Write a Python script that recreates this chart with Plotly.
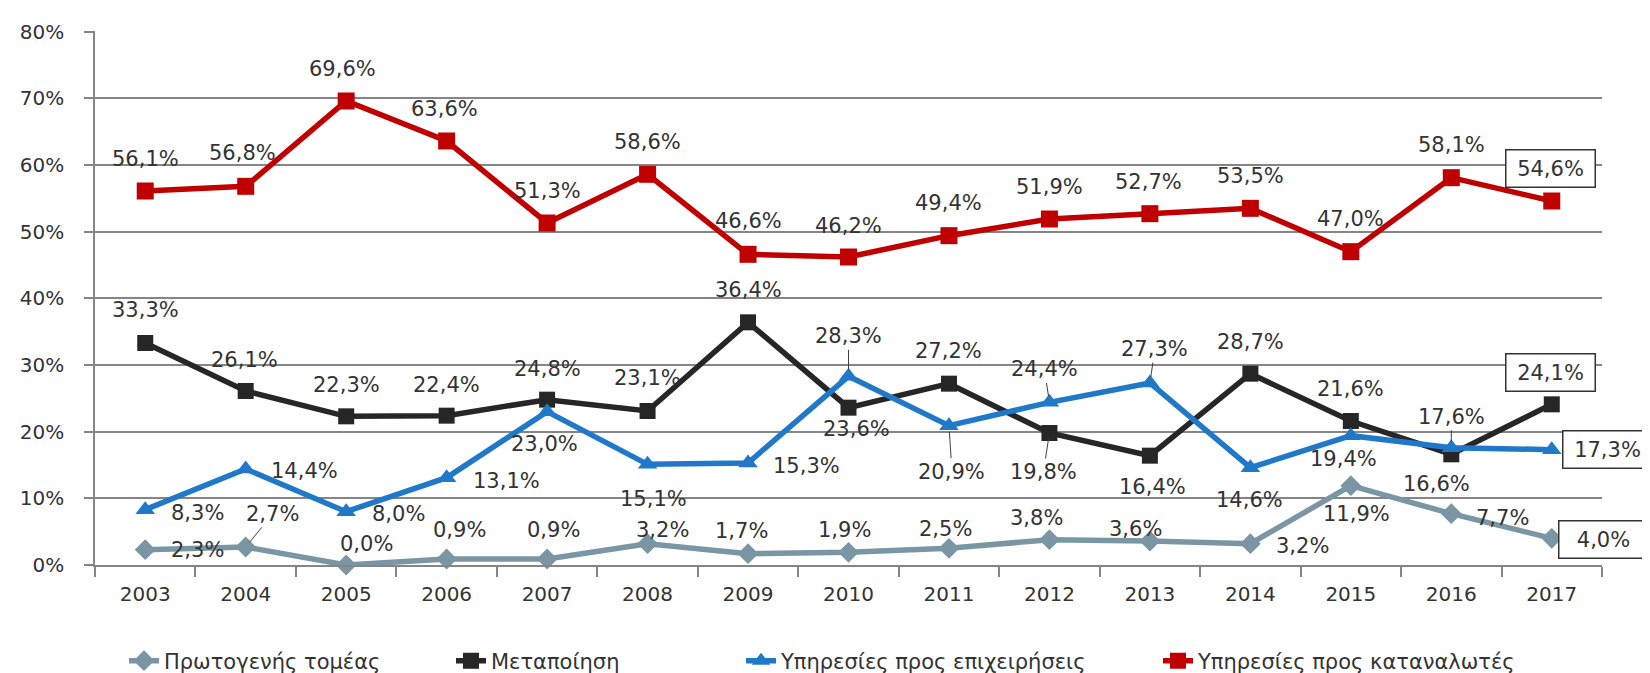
import plotly.graph_objects as go

years = ["2003", "2004", "2005", "2006", "2007", "2008", "2009", "2010",
         "2011", "2012", "2013", "2014", "2015", "2016", "2017"]

primary = [2.3, 2.7, 0.0, 0.9, 0.9, 3.2, 1.7, 1.9, 2.5, 3.8, 3.6, 3.2, 11.9, 7.7, 4.0]
manufacturing = [33.3, 26.1, 22.3, 22.4, 24.8, 23.1, 36.4, 23.6, 27.2, 19.8, 16.4, 28.7, 21.6, 16.6, 24.1]
business = [8.3, 14.4, 8.0, 13.1, 23.0, 15.1, 15.3, 28.3, 20.9, 24.4, 27.3, 14.6, 19.4, 17.6, 17.3]
consumer = [56.1, 56.8, 69.6, 63.6, 51.3, 58.6, 46.6, 46.2, 49.4, 51.9, 52.7, 53.5, 47.0, 58.1, 54.6]

names = ["Πρωτογενής τομέας", "Μεταποίηση", "Υπηρεσίες προς επιχειρήσεις", "Υπηρεσίες προς καταναλωτές"]
y_ticks = [0, 10, 20, 30, 40, 50, 60, 70, 80]

# ---- styling (label offsets in pixels: dx right, dy down; leader = draw leader line) ----
colors = ["#7A95A3", "#262626", "#1F78C8", "#C00000"]
symbols = ["diamond", "square", "triangle-up", "square"]
msizes = [16, 16, 17, 17]

off_primary = [(52, 0), (27, -33), (20, -21), (13, -29), (6, -29), (15, -14), (-7, -23), (-4, -22),
               (-3, -19), (-13, -22), (-14, -12), (52, 2), (6, 28), (51, 4), (52, 1)]
lead_primary = [1]
off_manu = [(0, -33), (-1, -31), (0, -31), (0, -31), (0, -31), (0, -33), (0, -32), (8, 21),
            (0, -33), (-6, 39), (3, 31), (0, -32), (0, -32), (-15, 30), (-1, -32)]
lead_manu = [9]
off_bus = [(52, 3), (59, 2), (52, 2), (60, 3), (-3, 32), (6, 35), (58, 3), (0, -40),
           (3, 46), (-5, -33), (5, -34), (-1, 32), (-7, 23), (0, -31), (56, 0)]
lead_bus = [7, 8, 9, 10, 13]
off_cons = [(0, -32), (-3, -33), (-4, -32), (-2, -32), (0, -32), (0, -32), (0, -33), (0, -31),
            (0, -33), (0, -32), (-1, -32), (0, -32), (0, -33), (0, -33), (-1, -33)]
lead_cons = []

series = [primary, manufacturing, business, consumer]
offsets = [off_primary, off_manu, off_bus, off_cons]
leaders = [lead_primary, lead_manu, lead_bus, lead_cons]

FONT = "DejaVu Sans"
TXT = "#333333"
LBL = 21

fig = go.Figure()
legend_ids = ["legend", "legend2", "legend3", "legend4"]
for k in range(4):
    fig.add_trace(go.Scatter(
        x=years, y=series[k], name=names[k], mode="lines+markers",
        line=dict(color=colors[k], width=5.5),
        marker=dict(symbol=symbols[k], size=msizes[k], color=colors[k]),
        cliponaxis=False, legend=legend_ids[k], hoverinfo="skip"))

def fmt(v):
    return f"{v:.1f}".replace(".", ",") + "%"

annotations = []
for k in range(4):
    vals = series[k]
    for i, v in enumerate(vals):
        dx, dy = offsets[k][i]
        boxed = (i == len(vals) - 1)
        # x given as the category index on the category axis
        a = dict(x=i, y=v, xref="x", yref="y", text=fmt(v),
                 font=dict(family=FONT, size=LBL, color=TXT))
        if i in leaders[k]:
            a.update(showarrow=True, ax=dx, ay=dy, arrowhead=0, arrowwidth=1,
                     arrowcolor="#404040", standoff=6)
        else:
            a.update(showarrow=False, xshift=dx, yshift=-dy)
        if boxed:
            a.update(bgcolor="white", bordercolor="#333333", borderwidth=1.5,
                     borderpad=6, width=76)
        annotations.append(a)

W, H = 1650, 673
L, R, T, B = 81, 56, 14, 116

legend_text_x = [163, 490, 780, 1197]
legend_cfg = {}
for k in range(4):
    legend_cfg[legend_ids[k]] = dict(
        orientation="h", xref="container", yref="container",
        x=(legend_text_x[k] - 47) / W, y=1 - 653 / H, xanchor="left", yanchor="middle",
        font=dict(family=FONT, size=21, color=TXT), bgcolor="rgba(0,0,0,0)",
        itemwidth=30)

fig.update_layout(
    width=W, height=H, margin=dict(l=L, r=R, t=T, b=B),
    plot_bgcolor="white", paper_bgcolor="white",
    font=dict(family=FONT, size=20, color=TXT),
    annotations=annotations,
    showlegend=True,
    **legend_cfg,
)
fig.update_xaxes(type="category", categoryorder="array", categoryarray=years,
                 range=[-0.5, len(years) - 0.5], autorange=False,
                 showline=True, linecolor="#858585", linewidth=1.5,
                 ticks="outside", tickson="boundaries", ticklen=10, tickcolor="#858585",
                 tickwidth=1.5, showgrid=False, ticklabelstandoff=10, tickangle=0,
                 tickfont=dict(family=FONT, size=20, color=TXT))
fig.update_yaxes(range=[0, 80.1], autorange=False, tickvals=y_ticks,
                 ticktext=[f"{t}%" for t in y_ticks],
                 showline=True, linecolor="#858585", linewidth=1.5,
                 showgrid=True, gridcolor="#858585", gridwidth=1.5,
                 ticks="outside", ticklen=9, tickcolor="#858585", tickwidth=1.5,
                 ticklabelstandoff=16, zeroline=False,
                 tickfont=dict(family=FONT, size=20, color=TXT))

fig.write_html("out.html")
